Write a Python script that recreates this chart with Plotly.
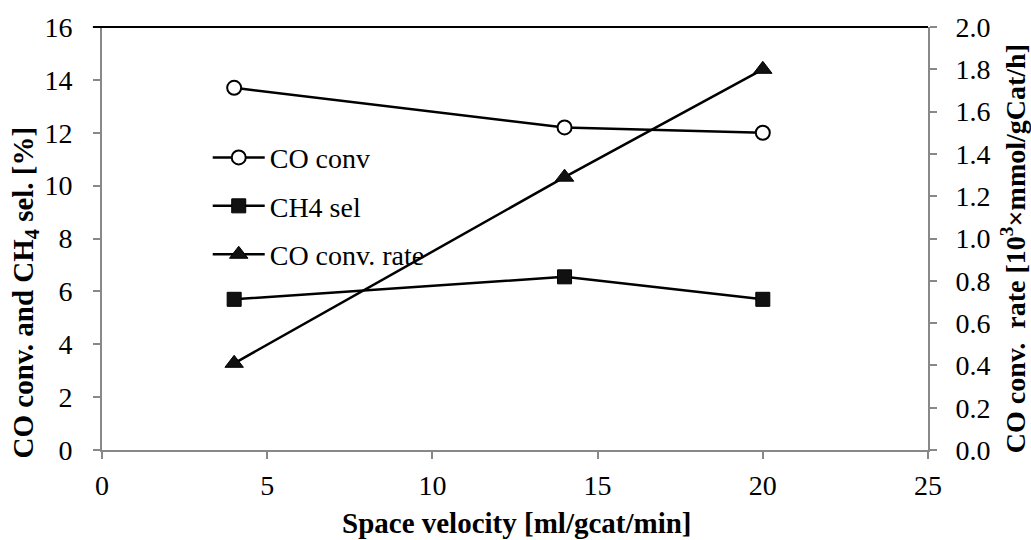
import plotly.graph_objects as go

sv = [4, 14, 20]
co_conv = [13.7, 12.2, 12.0]
ch4_sel = [5.7, 6.55, 5.7]
co_rate = [0.41, 1.29, 1.80]

x_ticks = [0, 5, 10, 15, 20, 25]
y_ticks = [0, 2, 4, 6, 8, 10, 12, 14, 16]
y2_ticks = [0.0, 0.2, 0.4, 0.6, 0.8, 1.0, 1.2, 1.4, 1.6, 1.8, 2.0]

FONT = "Liberation Serif"

fig = go.Figure()
fig.add_trace(go.Scatter(x=sv, y=co_conv, name="CO conv", mode="lines+markers",
                         legendgroup="a",
                         line=dict(color="black", width=2.5),
                         marker=dict(symbol="circle", size=14, color="white",
                                     line=dict(color="black", width=2))))
fig.add_trace(go.Scatter(x=sv, y=ch4_sel, name="CH4 sel", mode="lines+markers",
                         legendgroup="b",
                         line=dict(color="black", width=2.5),
                         marker=dict(symbol="square", size=14, color="#111111",
                                     line=dict(color="black", width=1))))
fig.add_trace(go.Scatter(x=sv, y=co_rate, name="CO conv. rate", mode="lines+markers",
                         yaxis="y2", legendgroup="c",
                         line=dict(color="black", width=2.5),
                         marker=dict(symbol="triangle-up", size=16, color="#111111",
                                     line=dict(color="black", width=1))))

axis_common = dict(showgrid=False, zeroline=False, showline=True,
                   linecolor="#888888", linewidth=2, ticks="outside",
                   tickcolor="#888888", ticklen=7, tickwidth=1.5,
                   tickfont=dict(family=FONT, size=28, color="black"))

fig.update_layout(
    width=1031, height=540,
    margin=dict(l=102, r=103, t=25, b=90),
    paper_bgcolor="white", plot_bgcolor="white",
    font=dict(family=FONT, color="black", size=28),
    xaxis=dict(range=[0, 25], tickvals=x_ticks, **axis_common, ticklabelstandoff=2),
    yaxis=dict(range=[0, 16], tickvals=y_ticks, **axis_common, ticklabelstandoff=15),
    yaxis2=dict(range=[0, 2.0], tickvals=y2_ticks, tickformat=".1f",
                overlaying="y", side="right", **axis_common, ticklabelstandoff=13),
    legend=dict(x=0.128, y=0.75, xanchor="left", yanchor="top",
                bgcolor="rgba(0,0,0,0)", font=dict(family=FONT, size=28, color="black"),
                tracegroupgap=9, itemwidth=52),
    showlegend=True,
)

fig.add_annotation(text="<b>Space velocity [ml/gcat/min]</b>", xref="paper", yref="paper",
                   x=0.502, y=-0.172, xanchor="center", yanchor="middle", showarrow=False,
                   font=dict(family=FONT, size=29, color="black"))
fig.add_annotation(text="<b>CO conv. and CH<sub>4</sub> sel. [%]</b>", xref="paper", yref="paper",
                   x=-0.093, y=0.373, xanchor="center", yanchor="middle", showarrow=False,
                   textangle=-90, font=dict(family=FONT, size=29, color="black"))
fig.add_annotation(text="<b>CO conv.  rate [10<sup>3</sup>×mmol/gCat/h]</b>", xref="paper", yref="paper",
                   x=1.103, y=0.475, xanchor="center", yanchor="middle", showarrow=False,
                   textangle=-90, font=dict(family=FONT, size=28, color="black"))

fig.add_shape(type="line", xref="paper", yref="paper", x0=-0.011, x1=1, y0=1, y1=1,
              line=dict(color="black", width=2))

fig.write_html("out.html")
